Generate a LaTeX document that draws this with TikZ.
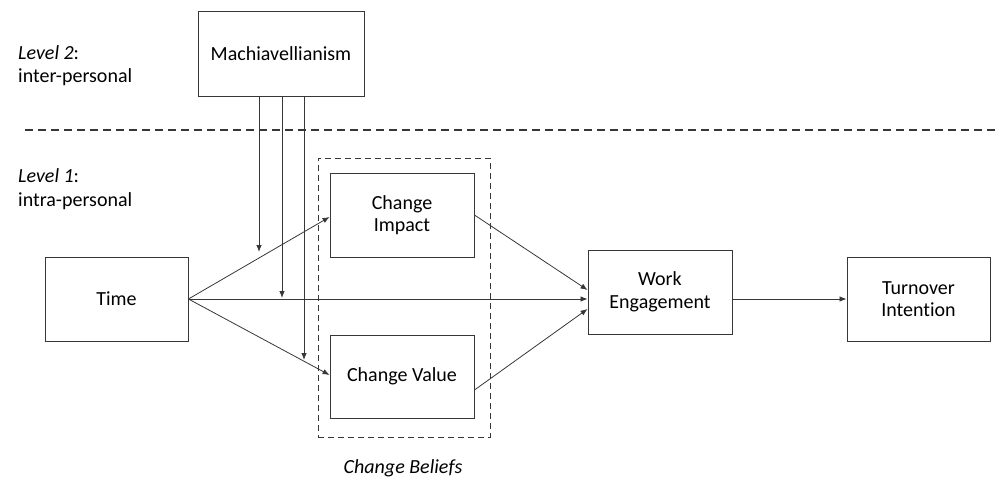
\documentclass[tikz,border=0pt]{standalone}
\usepackage{fontspec}
\setmainfont{Carlito}[Ligatures={NoCommon}]
\usetikzlibrary{arrows.meta,calc}
\definecolor{lc}{RGB}{55,55,55}
\tikzset{
  box/.style={draw=lc, line width=0.9pt, minimum width=#1, align=center, inner sep=2pt,
    font=\fontsize{20}{22.5}\selectfont, text=black},
  arr/.style={draw=lc, line width=0.8pt, -{Latex[length=7pt,width=5.5pt]}},
  lbl/.style={anchor=base west, inner sep=0pt, font=\fontsize{20}{22}\selectfont, text=black},
}
\begin{document}
\begin{tikzpicture}[x=1pt,y=-1pt]
\useasboundingbox (0,0) rectangle (998,481);
% nodes
\node[box=166pt, minimum height=85pt] (mach) at (281,53.5) {Machiavellianism};
\node[box=143pt, minimum height=84pt] (time) at (116.5,299) {Time};
\node[draw=lc, dash pattern=on 6pt off 4pt, line width=0.9pt, minimum width=172pt, minimum height=279pt] (beliefs) at (404,297.5) {};
\node[box=144pt, minimum height=84pt] (ci) at (402,215) {Change\\Impact};
\node[box=144pt, minimum height=83pt] (cv) at (402,376.5) {Change Value};
\node[box=144pt, minimum height=84pt] (we) at (660,292) {Work\\Engagement};
\node[box=143pt, minimum height=84pt] (ti) at (918.5,299) {Turnover\\Intention};
% labels
\node[lbl] (l2a) at (18,60) {\textit{Level 2}:};
\node[lbl] (l2b) at (18,83) {inter-personal};
\node[lbl] (l1a) at (18,183) {\textit{Level 1}:};
\node[lbl] (l1b) at (18,207) {intra-personal};
\node[font=\fontsize{20}{22}\selectfont\itshape, text=black] (cb) at (403,468) {Change Beliefs};
% level separator
\coordinate (sepL) at (25,130);
\coordinate (sepR) at (998,130);
\draw[lc, line width=1.3pt, dash pattern=on 8pt off 5pt] (sepL) -- (sepR);
% moderator lines
\coordinate (m1) at (259,252);
\coordinate (m2) at (282,298);
\coordinate (m3) at (304,360);
\draw[arr] (mach.south -| m1) -- (m1);
\draw[arr] (mach.south -| m2) -- (m2);
\draw[arr] (mach.south -| m3) -- (m3);
% main paths
\draw[arr] (time.east) -- ($(ci.west)+(0,2)$);
\draw[arr] (time.east) -- ($(cv.west)+(0,-1.5)$);
\draw[arr] (time.east) -- (we.west |- time.east);
\draw[arr] (ci.east) -- ($(we.west)+(0,-2)$);
\draw[arr] ($(cv.east)+(0,13.5)$) -- ($(we.west)+(0,17)$);
\draw[arr] (we.east |- ti.west) -- (ti.west);
\end{tikzpicture}
\end{document}
